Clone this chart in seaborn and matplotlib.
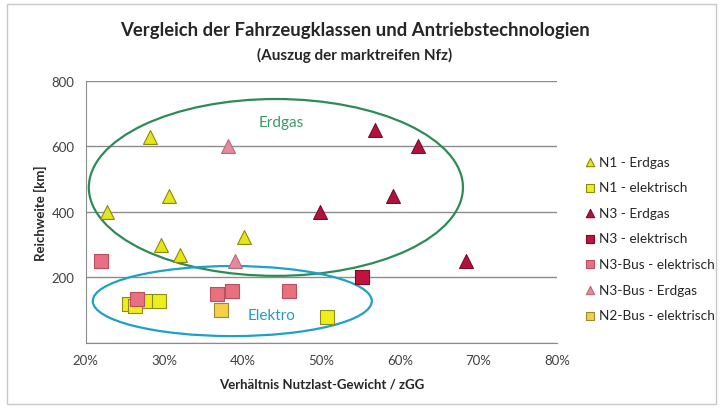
import numpy as np
import pandas as pd
import matplotlib
matplotlib.use("Agg")
import matplotlib.pyplot as plt
import seaborn as sns
from matplotlib.patches import Ellipse, Rectangle

# Daten (Verhältnis Nutzlast/zGG in %, Reichweite in km)
n1_erdgas_x = [28.2, 22.7, 30.6, 29.6, 32.0, 40.2]
n1_erdgas_y = [630, 400, 450, 300, 270, 325]
n1_elek_x = [25.5, 26.3, 28.0, 29.3, 50.7]
n1_elek_y = [120, 112, 128, 128, 80]
n3_erdgas_x = [56.8, 62.3, 59.1, 49.8, 68.4]
n3_erdgas_y = [650, 600, 450, 400, 250]
n3_elek_x = [55.2]
n3_elek_y = [200]
n3bus_elek_x = [22.0, 26.5, 36.7, 38.6, 45.9]
n3bus_elek_y = [250, 135, 150, 160, 160]
n3bus_erdgas_x = [38.1, 39.0]
n3bus_erdgas_y = [600, 250]
n2bus_elek_x = [37.2]
n2bus_elek_y = [100]

series = [
    ("N1 - Erdgas", n1_erdgas_x, n1_erdgas_y, "^", "#E4E61A", "#8A8A10"),
    ("N1 - elektrisch", n1_elek_x, n1_elek_y, "s", "#EEEE1E", "#8C8A18"),
    ("N3 - Erdgas", n3_erdgas_x, n3_erdgas_y, "^", "#B3123D", "#7A0C28"),
    ("N3 - elektrisch", n3_elek_x, n3_elek_y, "s", "#C0143E", "#7A0C28"),
    ("N3-Bus - elektrisch", n3bus_elek_x, n3bus_elek_y, "s", "#E8707F", "#B85060"),
    ("N3-Bus - Erdgas", n3bus_erdgas_x, n3bus_erdgas_y, "^", "#E58A9C", "#B86A7A"),
    ("N2-Bus - elektrisch", n2bus_elek_x, n2bus_elek_y, "s", "#F6CF4A", "#9A8A30"),
]

sns.set_style("white")
plt.rcParams['font.family'] = ['Lato', 'DejaVu Sans']

fig = plt.figure(figsize=(7.2, 4.1), dpi=100)
ax = fig.add_axes([0.119, 0.161, 0.655, 0.639])

for name, xs, ys, mk, fc, ec in series:
    df = pd.DataFrame({'x': np.array(xs) / 100, 'y': ys})
    sns.scatterplot(data=df, x='x', y='y', marker=mk, color=fc, edgecolor=ec,
                    linewidth=0.8, s=100 if mk == "^" else 90, label=name, ax=ax, zorder=3)

# Ellipsen
ax.add_patch(Ellipse((0.442, 475), 0.476, 540, fill=False, edgecolor="#2E8B57", lw=1.6, zorder=2))
ax.add_patch(Ellipse((0.3865, 128), 0.355, 214, fill=False, edgecolor="#1FA0C8", lw=1.6, zorder=2))
ax.text(0.449, 675, "Erdgas", color="#3A9A6A", fontsize=11, ha="center", va="center")
ax.text(0.437, 85, "Elektro", color="#2A9AC0", fontsize=11, ha="center", va="center")

ax.set_xlim(0.2, 0.8)
ax.set_ylim(0, 800)
ax.set_xticks([0.2, 0.3, 0.4, 0.5, 0.6, 0.7, 0.8])
ax.set_xticklabels(["20%", "30%", "40%", "50%", "60%", "70%", "80%"])
ax.set_yticks([0, 200, 400, 600, 800])
ax.set_yticklabels(["", "200", "400", "600", "800"])
ax.yaxis.grid(True, color="#8C8C8C", lw=1.0)
ax.set_axisbelow(True)
for side in ["top", "right"]:
    ax.spines[side].set_visible(False)
for side in ["left", "bottom"]:
    ax.spines[side].set_color("#8C8C8C")
ax.tick_params(axis="both", length=0, labelsize=9.5, colors="#404040", pad=8)
ax.set_xlabel("Verhältnis Nutzlast-Gewicht / zGG", fontsize=9.5, fontweight="bold", labelpad=8)
ax.set_ylabel("Reichweite [km]", fontsize=9.5, fontweight="bold", labelpad=3)

leg = ax.legend(loc="center left", bbox_to_anchor=(1.03, 0.399), frameon=False, fontsize=9.8,
                handletextpad=0.1, labelspacing=1.0, markerscale=0.6, handlelength=1.0)

fig.text(0.493, 0.925, "Vergleich der Fahrzeugklassen und Antriebstechnologien",
         ha="center", va="center", fontsize=13.3, fontweight="bold")
fig.text(0.493, 0.865, "(Auszug der marktreifen Nfz)", ha="center", va="center",
         fontsize=11, fontweight="bold")

fig.patches.append(Rectangle((0.01, 0.012), 0.985, 0.975, transform=fig.transFigure,
                             fill=False, edgecolor="#C8C8C8", lw=1.0))

fig.savefig("out.png", dpi=100)
